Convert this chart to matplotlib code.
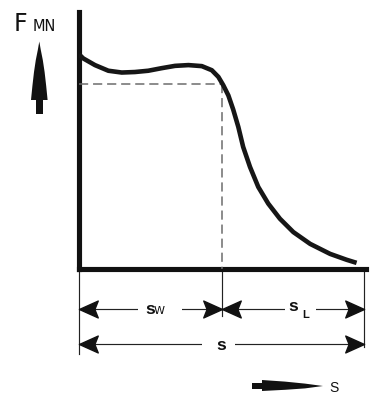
import matplotlib
matplotlib.use("Agg")
import matplotlib.pyplot as plt
from matplotlib.path import Path
from matplotlib.patches import Polygon
import numpy as np

# ---- data ----
s_pos = [0.0, 1.5, 5.6, 10.3, 15.0, 19.6, 24.3, 29.0, 33.7, 38.4, 43.1, 46.6,
         48.9, 50.6, 52.4, 54.1, 55.9, 57.6, 60.0, 62.9, 66.4, 70.5, 75.2,
         81.1, 88.1, 93.9, 97.4]
force = [83.5, 81.9, 79.3, 77.1, 76.4, 76.6, 77.1, 78.1, 79.0, 79.3, 78.9, 77.3,
         74.7, 71.5, 67.5, 62.0, 55.2, 47.4, 39.6, 31.8, 25.3, 19.4, 14.2,
         9.6, 5.7, 3.4, 2.2]
s_w = 50.0          # end of the working stroke
s_total = 100.0     # total stroke
f_ref = 71.9        # reference force level (dashed)

FONT = "Liberation Sans"
WIDE = "DejaVu Sans"
plt.rcParams['font.family'] = [FONT, 'DejaVu Sans']

W, H = 375, 394
fig = plt.figure(figsize=(W / 100, H / 100), dpi=100)

# overlay axes in pixel units for decorative arrows / labels
ov = fig.add_axes([0, 0, 1, 1])
ov.set_xlim(0, W)
ov.set_ylim(H, 0)
ov.axis('off')

# main axes
px_left, px_right, py_bottom, py_top = 79, 366, 268.5, 12
ax = fig.add_axes([px_left / W, (H - py_bottom) / H,
                   (px_right - px_left) / W, (py_bottom - py_top) / H])
xpx = (364 - 79) / 100.0
ax.set_xlim(0, (px_right - px_left) / xpx)
ax.set_ylim(0, 100)
ax.patch.set_alpha(0)
for side in ['top', 'right']:
    ax.spines[side].set_visible(False)
for side in ['left', 'bottom']:
    ax.spines[side].set_linewidth(3.7)
    ax.spines[side].set_color('#111111')
    ax.spines[side].set_capstyle('projecting')
ax.set_xticks([])
ax.set_yticks([])

dark = '#161616'
ax.plot(s_pos, force, color=dark, lw=3.3, solid_capstyle='butt',
        solid_joinstyle='round', zorder=5)

dash_col = '#6c6c6c'
ax.plot([0, s_w], [f_ref, f_ref], color=dash_col, lw=1.1, dashes=(6, 3.2), zorder=3)
ax.plot([s_w, s_w], [f_ref, 0], color=dash_col, lw=1.1, dashes=(6, 3.2), zorder=3)

# ---- dimension lines ----
row1, row2 = -15.8, -29.6
thin = dict(color='#222222', lw=0.85, clip_on=False)
ax.plot([0, 0], [0, -33.2], **thin)
ax.plot([s_w, s_w], [0, -18.4], **thin)
ax.plot([s_total, s_total], [0, -30.5], **thin)
ax.plot([0, s_w], [row1, row1], **thin)
ax.plot([s_w, s_total], [row1, row1], **thin)
ax.plot([0, s_total], [row2, row2], **thin)

# stealth-style arrowheads, tip at the marker position
head_left = Path([(0, 0), (1.0, 0.45), (0.82, 0), (1.0, -0.45), (0, 0)],
                 [Path.MOVETO, Path.LINETO, Path.LINETO, Path.LINETO, Path.CLOSEPOLY])
head_right = Path([(0, 0), (-1.0, 0.45), (-0.82, 0), (-1.0, -0.45), (0, 0)],
                  [Path.MOVETO, Path.LINETO, Path.LINETO, Path.LINETO, Path.CLOSEPOLY])
mk = dict(color='#111111', markersize=27, linestyle='none', clip_on=False, zorder=6)
ax.plot([0, s_w], [row1, row1], marker=head_left, **mk)
ax.plot([s_w, s_total], [row1, row1], marker=head_right, **mk)
ax.plot([0], [row2], marker=head_left, **mk)
ax.plot([s_total], [row2], marker=head_right, **mk)

# white gaps where the labels sit
def gap(x0, x1, y):
    ax.fill_between([x0, x1], y - 2, y + 2, color='white', zorder=4,
                    clip_on=False, lw=0)

gap(20.7, 36.1, row1)
gap(72.3, 83.1, row1)
gap(43.2, 54.7, row2)

bold = dict(fontfamily=FONT, fontweight='bold', color='#111111', zorder=7,
            clip_on=False)
ax.text(23.2, row1 - 2.0, 's', fontsize=12.5, ha='left', va='baseline', **bold)
ax.text(26.3, row1 - 2.0, 'W', fontsize=8, ha='left', va='baseline',
        fontfamily=WIDE, color='#111111', zorder=7, clip_on=False)
ax.text(73.3, row1 - 0.9, 's', fontsize=12.5, ha='left', va='baseline', **bold)
ax.text(78.5, row1 - 3.4, 'L', fontsize=8, ha='left', va='baseline', **bold)
ax.text(50.0, row2 - 2.0, 's', fontsize=12.5, ha='center', va='baseline', **bold)

# ---- axis symbols ----
ov.text(14, 31, 'F', fontsize=17, ha='left', va='baseline', fontfamily=WIDE,
        color='#111111')
ov.text(33, 31, 'MN', fontsize=10.5, ha='left', va='baseline', fontfamily=WIDE,
        color='#111111')
# upward force arrow (slightly convex sides)
ov.add_patch(Polygon([(39.3, 41.5), (40.8, 50), (42.8, 60), (44.6, 72),
                      (46.2, 86), (47.6, 100), (31.0, 100), (32.4, 86),
                      (34.0, 72), (35.8, 60), (37.8, 50)], closed=True,
                     fc='#111111', ec='none'))
ov.add_patch(Polygon([(36.2, 99), (42.6, 99), (42.6, 113.5), (36.2, 113.5)],
                     closed=True, fc='#111111', ec='none'))
# displacement arrow
ov.add_patch(Polygon([(323, 386), (305, 383.6), (285, 381.6), (262, 380.0),
                      (262, 391.0), (285, 389.8), (305, 388.4)], closed=True,
                     fc='#111111', ec='none'))
ov.add_patch(Polygon([(251.7, 382.8), (263, 382.8), (263, 388.6), (251.7, 388.6)],
                     closed=True, fc='#111111', ec='none'))
ov.text(329, 392, 'S', fontsize=10, ha='left', va='baseline', fontfamily=FONT,
        color='#111111')

fig.savefig('out.png', dpi=100, facecolor='white')
